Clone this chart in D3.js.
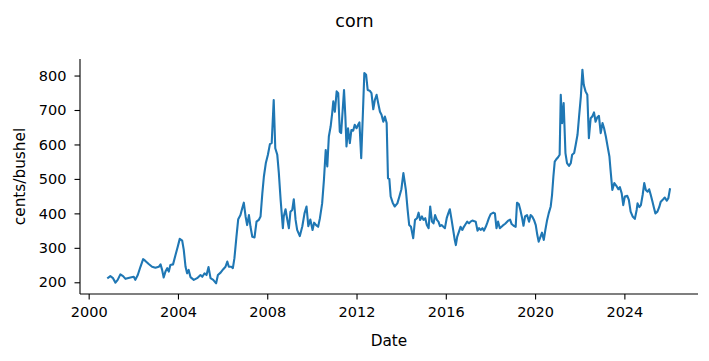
<!DOCTYPE html>
<html>
<head>
<meta charset="utf-8">
<script src="https://cdn.jsdelivr.net/npm/d3@7"></script>
<style>
  html, body { margin: 0; padding: 0; background: #fff; }
  svg { display: block; }
  text { font-family: "DejaVu Sans", sans-serif; fill: #000; }
</style>
</head>
<body>
<svg id="chart" width="709" height="361"></svg>
<script>
// ---- data (date as decimal year, price in cents/bushel)
const title = "corn";
const xLabel = "Date";
const yLabel = "cents/bushel";
const xTicks = [2000, 2004, 2008, 2012, 2016, 2020, 2024];
const yTicks = [200, 300, 400, 500, 600, 700, 800];

const dates = [
  2000.87, 2000.97, 2001.09, 2001.20, 2001.30, 2001.42, 2001.54, 2001.65, 2001.87, 2002.02,
  2002.09, 2002.20, 2002.32, 2002.44, 2002.54, 2002.69, 2002.84, 2002.99, 2003.14, 2003.22,
  2003.29, 2003.36, 2003.44, 2003.52, 2003.59, 2003.66, 2003.78, 2003.89, 2003.99, 2004.08,
  2004.19, 2004.26, 2004.34, 2004.41, 2004.48, 2004.56, 2004.71, 2004.86, 2005.01, 2005.09,
  2005.19, 2005.28, 2005.37, 2005.46, 2005.58, 2005.71, 2005.79, 2005.91, 2006.03, 2006.13,
  2006.21, 2006.28, 2006.39, 2006.46, 2006.53, 2006.62, 2006.70, 2006.80, 2006.88, 2006.95,
  2007.03, 2007.10, 2007.18, 2007.25, 2007.33, 2007.43, 2007.52, 2007.62, 2007.70, 2007.78,
  2007.85, 2007.94, 2008.03, 2008.12, 2008.20, 2008.29, 2008.36, 2008.45, 2008.52, 2008.60,
  2008.70, 2008.74, 2008.82, 2008.90, 2008.97, 2009.04, 2009.12, 2009.19, 2009.27, 2009.34,
  2009.46, 2009.57, 2009.67, 2009.76, 2009.84, 2009.93, 2010.03, 2010.10, 2010.19, 2010.28,
  2010.36, 2010.46, 2010.54, 2010.62, 2010.69, 2010.76, 2010.84, 2010.91, 2010.96, 2011.03,
  2011.11, 2011.18, 2011.25, 2011.31, 2011.38, 2011.44, 2011.50, 2011.55, 2011.62, 2011.70,
  2011.77, 2011.85, 2011.92, 2012.00, 2012.07, 2012.13, 2012.21, 2012.28, 2012.35, 2012.43,
  2012.50, 2012.59, 2012.67, 2012.75, 2012.82, 2012.90, 2012.97, 2013.05, 2013.12, 2013.20,
  2013.27, 2013.35, 2013.41, 2013.47, 2013.53, 2013.62, 2013.71, 2013.83, 2013.92, 2014.01,
  2014.10, 2014.21, 2014.29, 2014.36, 2014.44, 2014.54, 2014.62, 2014.71, 2014.78, 2014.85,
  2014.93, 2015.00, 2015.08, 2015.15, 2015.23, 2015.30, 2015.38, 2015.45, 2015.52, 2015.60,
  2015.67, 2015.74, 2015.81, 2015.89, 2015.96, 2016.04, 2016.11, 2016.18, 2016.26, 2016.33,
  2016.40, 2016.45, 2016.51, 2016.59, 2016.66, 2016.74, 2016.81, 2016.89, 2016.96, 2017.04,
  2017.11, 2017.19, 2017.34, 2017.42, 2017.49, 2017.56, 2017.64, 2017.71, 2017.79, 2017.86,
  2017.93, 2018.01, 2018.13, 2018.20, 2018.27, 2018.34, 2018.42, 2018.56, 2018.66, 2018.78,
  2018.88, 2018.95, 2019.04, 2019.13, 2019.19, 2019.27, 2019.34, 2019.42, 2019.48, 2019.55,
  2019.64, 2019.73, 2019.80, 2019.87, 2019.95, 2020.03, 2020.10, 2020.16, 2020.24, 2020.31,
  2020.39, 2020.46, 2020.54, 2020.61, 2020.70, 2020.76, 2020.82, 2020.88, 2020.95, 2021.03,
  2021.10, 2021.15, 2021.21, 2021.28, 2021.36, 2021.43, 2021.52, 2021.60, 2021.66, 2021.75,
  2021.82, 2021.90, 2021.97, 2022.05, 2022.12, 2022.18, 2022.26, 2022.34, 2022.41, 2022.49,
  2022.56, 2022.64, 2022.71, 2022.79, 2022.86, 2022.94, 2023.02, 2023.09, 2023.17, 2023.26,
  2023.33, 2023.38, 2023.46, 2023.55, 2023.64, 2023.73, 2023.80, 2023.88, 2023.95, 2024.02,
  2024.13, 2024.20, 2024.28, 2024.37, 2024.47, 2024.55, 2024.59, 2024.67, 2024.74, 2024.82,
  2024.89, 2024.96, 2025.04, 2025.11, 2025.18, 2025.26, 2025.33, 2025.39, 2025.48, 2025.56,
  2025.63, 2025.74, 2025.81, 2025.90, 2025.97, 2026.04
];

const prices = [
  213, 218, 212, 199, 207, 223, 218, 210, 214, 216,
  207, 221, 245, 267, 262, 253, 245, 242, 245, 252,
  236, 214, 231, 241, 231, 250, 252, 279, 303, 326,
  321, 294, 245, 226, 236, 215, 207, 212, 221, 216,
  226, 221, 244, 212, 207, 197, 221, 228, 238, 245,
  260, 245, 245, 241, 270, 332, 383, 395, 415, 431,
  391, 366, 395, 361, 332, 330, 376, 381, 391, 458,
  507, 547, 570, 601, 604, 729, 589, 570, 517, 439,
  357, 391, 412, 381, 357, 405, 410, 441, 381, 352,
  334, 362, 400, 420, 363, 382, 352, 373, 366, 361,
  386, 429, 497, 584, 536, 623, 652, 691, 725, 695,
  754, 749, 637, 633, 700, 758, 681, 594, 647, 604,
  642, 640, 657, 647, 657, 664, 560, 681, 807, 802,
  758, 756, 749, 702, 729, 744, 720, 695, 686, 666,
  681, 662, 502, 500, 449, 431, 420, 429, 449, 470,
  517, 468, 410, 366, 361, 328, 381, 386, 402, 381,
  391, 381, 386, 366, 357, 420, 376, 371, 395, 381,
  376, 363, 366, 361, 357, 386, 400, 412, 381, 352,
  323, 308, 332, 347, 361, 352, 361, 369, 376, 371,
  376, 379, 376, 350, 357, 352, 357, 350, 361, 373,
  386, 398, 402, 400, 357, 376, 357, 365, 370, 378,
  382, 369, 364, 361, 431, 427, 410, 386, 364, 391,
  395, 376, 395, 391, 381, 366, 337, 318, 332, 344,
  323, 352, 381, 400, 420, 454, 507, 550, 557, 563,
  570, 744, 662, 720, 575, 546, 538, 546, 570, 575,
  599, 628, 681, 739, 817, 773, 754, 744, 618, 676,
  681, 693, 666, 679, 683, 633, 662, 647, 623, 590,
  565, 526, 468, 488, 480, 470, 476, 458, 424, 449,
  451, 439, 405, 391, 384, 410, 429, 418, 424, 454,
  488, 468, 463, 470, 454, 434, 415, 400, 405, 418,
  434, 441, 446, 437, 444, 470
];

// ---- layout
const W = 709, H = 361;
const margin = { left: 80, right: 11, top: 59, bottom: 67 };
const iw = W - margin.left - margin.right;
const ih = H - margin.top - margin.bottom;

const data = dates.map((d, i) => ({ t: d, v: prices[i] }));

const [tMin, tMax] = d3.extent(dates);
const tPad = (tMax - tMin) * 0.05;
const [vMin, vMax] = d3.extent(prices);
const vPad = (vMax - vMin) * 0.05;

const x = d3.scaleLinear().domain([tMin - tPad, tMax + tPad]).range([0, iw]);
const y = d3.scaleLinear().domain([vMin - vPad, vMax + vPad]).range([ih, 0]);

const svg = d3.select("#chart");
const g = svg.append("g").attr("transform", `translate(${margin.left},${margin.top})`);

// line
g.append("path")
  .datum(data)
  .attr("fill", "none")
  .attr("stroke", "#1f77b4")
  .attr("stroke-width", 2.1)
  .attr("stroke-linejoin", "round")
  .attr("stroke-linecap", "square")
  .attr("d", d3.line().x(d => x(d.t)).y(d => y(d.v)));

// axes
const tickFont = 14.5;
const xAxis = d3.axisBottom(x).tickValues(xTicks).tickFormat(d3.format("d")).tickSize(5.5).tickPadding(7);
const yAxis = d3.axisLeft(y).tickValues(yTicks).tickFormat(d3.format("d")).tickSize(5.5).tickPadding(8);

const gx = g.append("g").attr("transform", `translate(0,${ih})`).call(xAxis);
const gy = g.append("g").call(yAxis);

[gx, gy].forEach(a => {
  a.select(".domain").attr("stroke", "#000").attr("stroke-width", 1.1);
  a.selectAll(".tick line").attr("stroke", "#000").attr("stroke-width", 1.1);
  a.selectAll(".tick text").attr("font-family", "DejaVu Sans, sans-serif").attr("font-size", tickFont).attr("fill", "#000");
});
// plain spines without end caps
gx.select(".domain").attr("d", `M0,0H${iw}`);
gy.select(".domain").attr("d", `M0,${ih}V0`);

// labels
svg.append("text")
  .attr("x", margin.left + iw / 2)
  .attr("y", H - 15)
  .attr("text-anchor", "middle")
  .attr("font-size", 15.3)
  .text(xLabel);

svg.append("text")
  .attr("transform", `translate(25,${margin.top + ih / 2}) rotate(-90)`)
  .attr("text-anchor", "middle")
  .attr("font-size", 15.3)
  .text(yLabel);

svg.append("text")
  .attr("x", W / 2)
  .attr("y", 27)
  .attr("text-anchor", "middle")
  .attr("font-size", 17.5)
  .text(title);
</script>
</body>
</html>
